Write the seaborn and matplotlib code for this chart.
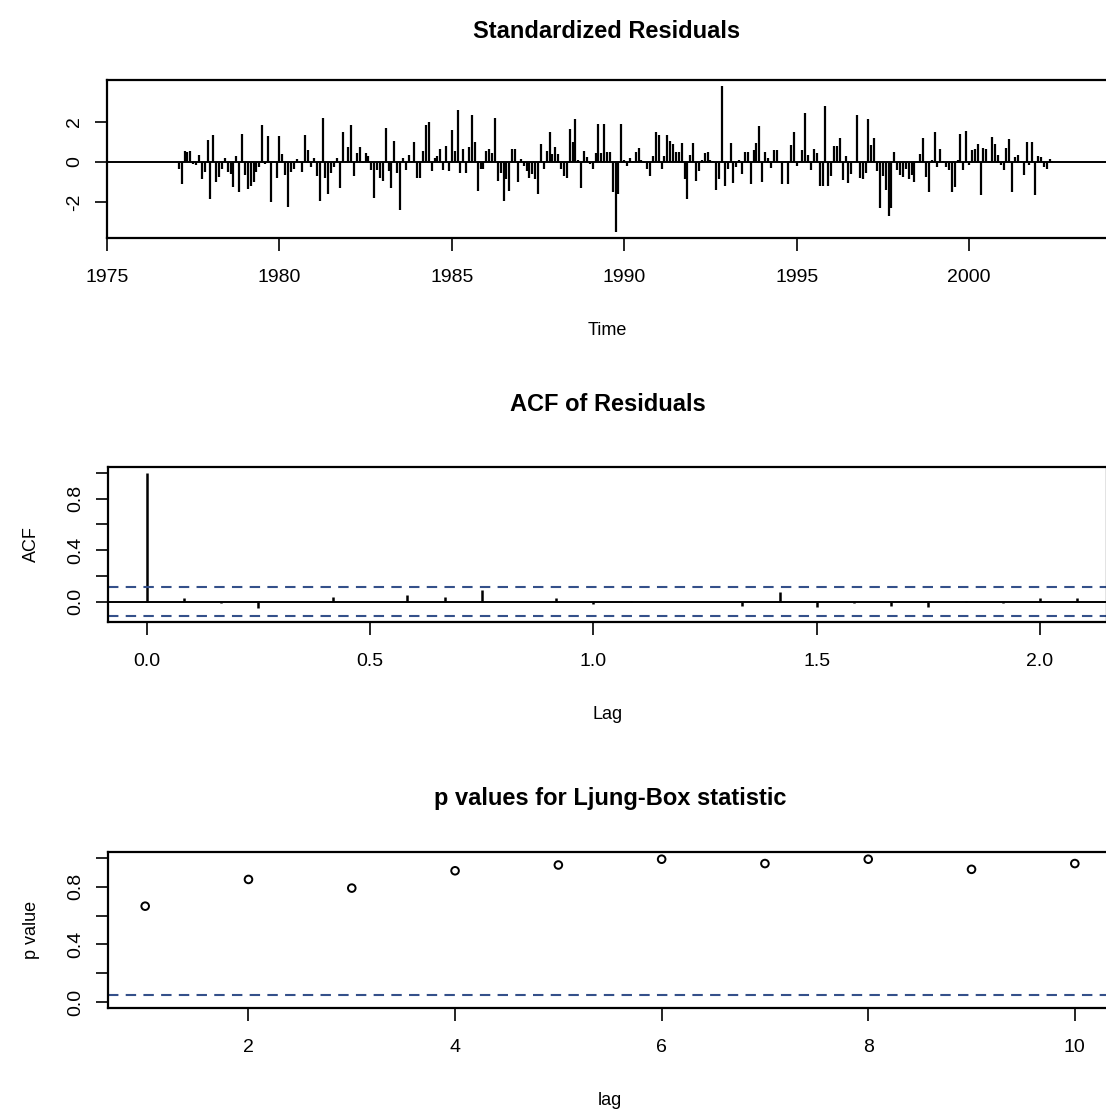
import numpy as np
import matplotlib
matplotlib.use("Agg")
import matplotlib.pyplot as plt
import seaborn as sns

# standardized residuals, monthly, first value Feb 1977
start_year = 1977
start_month = 2
resid_1977_1981 = [-0.35, -1.1, 0.55, 0.5, 0.55, -0.1, -0.15, 0.35, -0.85, -0.5,
                   1.1, -1.85, 1.35, -1.0, -0.75, -0.35, 0.2, -0.5, -0.6, -1.25,
                   0.3, -1.5, 1.4, -0.65, -1.35, -1.2, -1.0, -0.5, -0.25, 1.85,
                   -0.1, 1.3, -2.0, 0.05, -0.8, 1.3, 0.4, -0.65, -2.25, -0.5,
                   -0.35, 0.15, 0.05, -0.5, 1.35, 0.6, -0.25]
resid_1981_1985 = [0.2, -0.7, -1.95, 2.2, -0.8, -1.6, -0.55, -0.25, 0.2, -1.3,
                   1.5, 0.05, 0.75, 1.85, -0.7, 0.45, 0.75, -0.05, 0.45, 0.3,
                   -0.4, -1.8, -0.4, -0.8, -0.95, 1.7, -0.45, -1.3, 1.05, -0.55,
                   -2.4, 0.2, -0.4, 0.35, 0.05, 1.0, -0.8, -0.8, 0.55, 1.85,
                   2.0, -0.45, 0.2, 0.3, 0.65, -0.4, 0.8, -0.45, 1.6, 0.55]
resid_1985_1989 = [2.6, -0.55, 0.65, -0.55, 0.75, 2.35, 1.0, -1.45, -0.35, -0.35,
                   0.55, 0.65, 0.45, 2.2, -0.95, -0.55, -1.95, -0.85, -1.45, 0.65,
                   0.65, -1.0, 0.15, -0.2, -0.45, -0.8, -0.6, -0.85, -1.6, 0.9,
                   -0.35, 0.55, 1.5, 0.4, 0.75, 0.4, -0.35, -0.7, -0.8, 1.65,
                   1.0, 2.15, 0.1, -1.3, 0.55, 0.25, -0.1, -0.35, 0.45, 1.9]
resid_1989_1993 = [0.45, 1.9, 0.5, 0.5, -1.5, -3.5, -1.6, 1.9, 0.1, -0.2,
                   0.2, 0.05, 0.5, 0.7, 0.1, -0.05, -0.35, -0.7, 0.3, 1.5,
                   1.35, -0.35, 0.3, 1.35, 1.05, 0.9, 0.5, 0.5, 0.95, -0.85,
                   -1.85, 0.35, 0.95, -0.95, -0.45, 0.1, 0.45, 0.5, 0.1, 0.05,
                   -1.4, -0.85, 3.8, -1.2, -0.35, 0.95, -1.05, -0.25, 0.1, -0.6]
resid_1993_1997 = [0.5, 0.5, -1.1, 0.6, 0.95, 1.8, -1.0, 0.5, 0.2, -0.3,
                   0.6, 0.6, 0.05, -1.1, 0.05, -1.1, 0.85, 1.5, -0.2, 0.05,
                   0.6, 2.45, 0.35, -0.4, 0.65, 0.45, -1.2, -1.2, 2.8, -1.2,
                   -0.7, 0.8, 0.8, 1.2, -0.9, 0.3, -1.05, -0.6, 0.05, 2.35,
                   -0.8, -0.85, -0.55, 2.15, 0.85, 1.2, -0.45, -2.3, -0.7, -1.4]
resid_1997_2002 = [-2.7, -2.3, 0.5, -0.4, -0.65, -0.75, -0.35, -0.85, -0.65, -1.0,
                   0.05, 0.4, 1.2, -0.75, -1.5, 0.1, 1.5, -0.25, 0.65, 0.05,
                   -0.25, -0.4, -1.5, -1.25, 0.1, 1.4, -0.4, 1.55, -0.15, 0.6,
                   0.65, 0.9, -1.65, 0.7, 0.65, 0.05, 1.25, 0.9, 0.35, -0.15,
                   -0.4, 0.7, 1.15, -1.5, 0.25, 0.35, 0.05, -0.65, 1.0, -0.15,
                   1.0, -1.65, 0.3, 0.25, -0.25, -0.35, 0.15, 0.05]

# ACF of residuals, lags 0..25 months (lag axis in years)
acf_vals = [1.0, 0.03, -0.01, -0.05, 0.0, 0.04, 0.0, 0.05, 0.04, 0.09,
            0.0, 0.03, -0.02, 0.01, 0.0, 0.0, -0.03, 0.08, -0.04, -0.01,
            -0.03, -0.04, 0.01, -0.01, 0.03, 0.03]

# Ljung-Box p values
lb_lags = [1, 2, 3, 4, 5, 6, 7, 8, 9, 10]
lb_pvals = [0.665, 0.85, 0.79, 0.91, 0.95, 0.99, 0.96, 0.99, 0.92, 0.96]

resid = np.array(resid_1977_1981 + resid_1981_1985 + resid_1985_1989
                 + resid_1989_1993 + resid_1993_1997 + resid_1997_2002)
t = start_year + (start_month - 1) / 12 + np.arange(len(resid)) / 12
lags = np.arange(len(acf_vals)) / 12
clim = 1.96 / np.sqrt(len(resid))

sns.set_theme(style="ticks")
plt.rcParams["font.family"] = ["Liberation Sans", "DejaVu Sans"]
plt.rcParams["axes.edgecolor"] = "black"
plt.rcParams["axes.linewidth"] = 1.6
plt.rcParams["text.color"] = "black"
plt.rcParams["axes.labelcolor"] = "black"

W, H = 1106, 1109
fig = plt.figure(figsize=(W / 100, H / 100), dpi=100)


def panel(left, top, right, bottom):
    ax = fig.add_axes([left / W, 1 - bottom / H, (right - left) / W, (bottom - top) / H])
    ax.tick_params(direction="out", length=9, width=1.2, colors="black",
                   labelsize=14, pad=8)
    ax.tick_params(axis="x", pad=13)
    ax.set_facecolor("white")
    return ax


def rot_yticks(ax, ticks, labels):
    ax.set_yticks(ticks)
    ax.set_yticklabels(labels, rotation=90, va="center", ha="right")


blue = "#34508a"
dash = (0, (5, 3.5))

# 1 - standardized residuals
ax1 = panel(107, 80, 1107, 238)
ax1.vlines(t, 0, resid, color="black", lw=1.6)
ax1.axhline(0, color="black", lw=1.4)
ax1.set_xlim(1975, 2004)
pad = 0.04 * (resid.max() - resid.min())
ax1.set_ylim(resid.min() - pad, resid.max() + pad)
ax1.set_xticks([1975, 1980, 1985, 1990, 1995, 2000])
rot_yticks(ax1, [-2, 0, 2], ["-2", "0", "2"])
ax1.set_xlabel("Time", fontsize=13, labelpad=26)
ax1.set_title("Standardized Residuals", fontsize=17, fontweight="bold", pad=30)

# 2 - ACF of residuals
ax2 = panel(108, 467, 1107, 622)
ax2.vlines(lags, 0, acf_vals, color="black", lw=1.8)
ax2.axhline(0, color="black", lw=1.4)
ax2.axhline(clim, color=blue, lw=1.5, ls=dash)
ax2.axhline(-clim, color=blue, lw=1.5, ls=dash)
ax2.set_xlim(-0.087, 2.15)
ax2.set_ylim(-0.156, 1.044)
ax2.set_xticks([0, 0.5, 1.0, 1.5, 2.0])
ax2.set_xticklabels(["0.0", "0.5", "1.0", "1.5", "2.0"])
rot_yticks(ax2, [0, 0.2, 0.4, 0.6, 0.8, 1.0], ["0.0", "", "0.4", "", "0.8", ""])
ax2.set_xlabel("Lag", fontsize=13, labelpad=26)
ax2.set_ylabel("ACF", fontsize=13, labelpad=20)
ax2.set_title("ACF of Residuals", fontsize=17, fontweight="bold", pad=40)

# 3 - Ljung-Box p values
ax3 = panel(108, 852, 1112, 1008)
sns.scatterplot(x=lb_lags, y=lb_pvals, ax=ax3, marker="o", s=30,
                facecolor="none", edgecolor="black", linewidth=1.4)
ax3.axhline(0.05, color=blue, lw=1.5, ls=dash)
ax3.set_xlim(0.64, 10.36)
ax3.set_ylim(-0.04, 1.04)
ax3.set_xticks([2, 4, 6, 8, 10])
rot_yticks(ax3, [0, 0.2, 0.4, 0.6, 0.8, 1.0], ["0.0", "", "0.4", "", "0.8", ""])
ax3.set_xlabel("lag", fontsize=13, labelpad=26)
ax3.set_ylabel("p value", fontsize=13, labelpad=20)
ax3.set_title("p values for Ljung-Box statistic", fontsize=17, fontweight="bold", pad=34)

fig.savefig("out.png", dpi=100, facecolor="white")
